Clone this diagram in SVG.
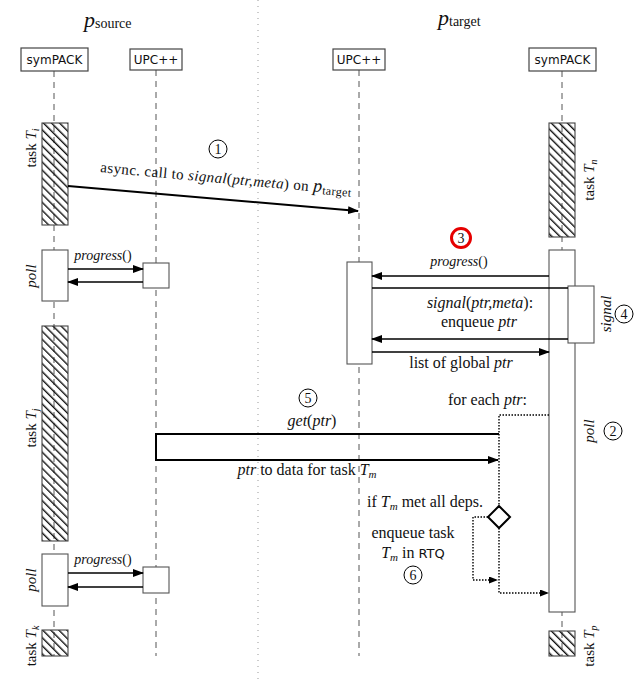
<svg xmlns="http://www.w3.org/2000/svg" width="641" height="682" viewBox="0 0 641 682">
<defs>
<pattern id="hatch" width="5.7" height="5.7" patternUnits="userSpaceOnUse" patternTransform="rotate(-45)">
<rect x="0" y="0" width="1.4" height="5.7" fill="#111"/>
</pattern>
<marker id="ah" markerWidth="11" markerHeight="8" refX="10" refY="4" orient="auto" markerUnits="userSpaceOnUse">
<path d="M0,0 L11,4 L0,8 z" fill="#000"/>
</marker>
<marker id="ahs" markerWidth="9" markerHeight="7" refX="8" refY="3.5" orient="auto" markerUnits="userSpaceOnUse">
<path d="M0,0 L9,3.5 L0,7 z" fill="#000"/>
</marker>
</defs>
<style>
text{font-family:"Liberation Serif","Times New Roman",serif;font-size:15px;fill:#111}
.l16{font-size:16px}
.p14{font-size:14px}
.sans{font-family:"DejaVu Sans","Liberation Sans",sans-serif;font-size:12px}
.it{font-style:italic}
.head{stroke:#444;stroke-width:1.2;fill:#fff}
.life{stroke:#555;stroke-width:1;stroke-dasharray:6 5;fill:none}
.act{stroke:#555;stroke-width:1.1;fill:#fff}
.task{stroke:#444;stroke-width:1.1;fill:url(#hatch)}
.msg{stroke:#000;stroke-width:1.5;fill:none}
.dot{stroke:#000;stroke-width:1.4;stroke-dasharray:1.5 1.5;fill:none}
.num{stroke:#000;stroke-width:1;fill:#fff}
.mid{stroke:#999;stroke-width:1;stroke-dasharray:1 5;fill:none}
</style>

<line class="mid" x1="258" y1="0" x2="258" y2="682"/>

<text x="84" y="27" class="it" style="font-size:22px">p<tspan style="font-style:normal;font-size:14px" dy="1">source</tspan></text>
<text x="438" y="25" class="it" style="font-size:22px">p<tspan style="font-style:normal;font-size:14px" dy="1">target</tspan></text>

<g id="lifelines">
<line class="life" x1="54" y1="71" x2="54" y2="656"/>
<line class="life" x1="156" y1="70" x2="156" y2="656"/>
<line class="life" x1="359" y1="70" x2="359" y2="656"/>
<line class="life" x1="562" y1="71" x2="562" y2="656"/>
</g>

<g id="symPACK-src"><rect class="head" x="21" y="48" width="67" height="23"/><text class="sans" x="54.5" y="64" text-anchor="middle">symPACK</text></g>
<g id="UPC-src"><rect class="head" x="130" y="49" width="52" height="21"/><text class="sans" x="156" y="64" text-anchor="middle">UPC++</text></g>
<g id="UPC-tgt"><rect class="head" x="333" y="49" width="52" height="21"/><text class="sans" x="359" y="64" text-anchor="middle">UPC++</text></g>
<g id="symPACK-tgt"><rect class="head" x="529" y="48" width="67" height="23"/><text class="sans" x="562.5" y="64" text-anchor="middle">symPACK</text></g>

<g id="task-Ti"><rect class="task" x="42" y="123" width="26" height="102"/><text transform="translate(36,148) rotate(-90)" text-anchor="middle">task <tspan class="it">T<tspan style="font-size:10px" dy="3">i</tspan></tspan></text></g>
<g id="task-Tn"><rect class="task" x="549" y="123" width="26" height="114"/><text transform="translate(594,180) rotate(-90)" text-anchor="middle">task <tspan class="it">T<tspan style="font-size:10px" dy="3">n</tspan></tspan></text></g>
<g id="task-Tj"><rect class="task" x="42" y="326" width="26" height="215"/><text transform="translate(36,428) rotate(-90)" text-anchor="middle">task <tspan class="it">T<tspan style="font-size:10px" dy="3">j</tspan></tspan></text></g>
<g id="task-Tk"><rect class="task" x="42" y="630" width="26" height="26"/><text transform="translate(36,646) rotate(-90)" text-anchor="middle">task <tspan class="it">T<tspan style="font-size:10px" dy="3">k</tspan></tspan></text></g>
<g id="task-Tp"><rect class="task" x="549" y="631" width="26" height="25"/><text transform="translate(594,646) rotate(-90)" text-anchor="middle">task <tspan class="it">T<tspan style="font-size:10px" dy="3">p</tspan></tspan></text></g>

<g id="poll-src-1"><rect class="act" x="42" y="250" width="26" height="51"/><text class="it" transform="translate(36,276) rotate(-90)" text-anchor="middle">poll</text></g>
<g id="upc-src-1"><rect class="act" x="143" y="263" width="26" height="25"/></g>
<g id="poll-src-2"><rect class="act" x="42" y="554" width="26" height="52"/><text class="it" transform="translate(36,580) rotate(-90)" text-anchor="middle">poll</text></g>
<g id="upc-src-2"><rect class="act" x="143" y="567" width="26" height="26"/></g>

<g id="upc-tgt-act"><rect class="act" x="347" y="262" width="25" height="102"/></g>
<g id="poll-tgt"><rect class="act" x="549" y="250" width="26" height="362"/><text class="it" transform="translate(594,431) rotate(-90)" text-anchor="middle">poll</text></g>
<g id="signal-act"><rect class="act" x="568" y="286" width="26" height="57"/><text class="it" transform="translate(611,314) rotate(-90)" text-anchor="middle">signal</text></g>

<g id="decision"><path d="M499,506 L510,517 L499,528 L488,517 z" fill="#fff" stroke="#000" stroke-width="2"/></g>

<g id="connectors">
<line x1="68" y1="186" x2="358" y2="211" stroke="#000" stroke-width="2" marker-end="url(#ah)"/>
<line class="msg" x1="68" y1="269" x2="143" y2="269" marker-end="url(#ah)"/>
<line class="msg" x1="143" y1="282" x2="68" y2="282" marker-end="url(#ah)"/>
<line class="msg" x1="68" y1="573" x2="143" y2="573" marker-end="url(#ah)"/>
<line class="msg" x1="143" y1="587" x2="68" y2="587" marker-end="url(#ah)"/>
<line class="msg" x1="549" y1="276" x2="372" y2="276" marker-end="url(#ah)"/>
<line class="msg" x1="372" y1="288" x2="568" y2="288"/>
<line class="msg" x1="568" y1="339" x2="372" y2="339" marker-end="url(#ah)"/>
<line class="msg" x1="372" y1="352" x2="549" y2="352" marker-end="url(#ah)"/>
<path d="M499,434 H156 V460 H498" fill="none" stroke="#000" stroke-width="2" marker-end="url(#ah)"/>
<path class="dot" d="M549,415 H499 V506"/>
<path class="dot" d="M488,517 H473 V580 H497" marker-end="url(#ahs)"/>
<path class="dot" d="M499,528 V593 H548" marker-end="url(#ahs)"/>
</g>

<g id="labels">
<text transform="rotate(5.2 100 172)" x="100" y="172" textLength="252" lengthAdjust="spacing">async. call to <tspan class="it">signal</tspan>(<tspan class="it">ptr,meta</tspan>) on <tspan class="it" style="font-size:18px">p</tspan><tspan style="font-size:12px" dy="2">target</tspan></text>
<text class="p14" x="103" y="260" text-anchor="middle"><tspan class="it">progress</tspan>()</text>
<text class="p14" x="103" y="564" text-anchor="middle"><tspan class="it">progress</tspan>()</text>
<text class="p14" x="459" y="266" text-anchor="middle"><tspan class="it">progress</tspan>()</text>
<text class="l16" x="480" y="308" text-anchor="middle"><tspan class="it">signal</tspan>(<tspan class="it">ptr,meta</tspan>):</text>
<text class="l16" x="479" y="327" text-anchor="middle">enqueue <tspan class="it">ptr</tspan></text>
<text class="l16" x="461" y="368" text-anchor="middle">list of global <tspan class="it">ptr</tspan></text>
<text class="l16" x="527" y="405" text-anchor="end">for each <tspan class="it">ptr</tspan>:</text>
<text class="l16" x="312" y="426" text-anchor="middle"><tspan class="it">get</tspan>(<tspan class="it">ptr</tspan>)</text>
<text class="l16" x="307" y="475" text-anchor="middle"><tspan class="it">ptr</tspan> to data for task <tspan class="it">T<tspan style="font-size:11px" dy="3">m</tspan></tspan></text>
<text class="l16" x="367" y="507"><tspan>if </tspan><tspan class="it">T<tspan style="font-size:11px" dy="3">m</tspan></tspan><tspan dy="-3"> met all deps.</tspan></text>
<text class="l16" x="413" y="538" text-anchor="middle">enqueue task</text>
<text class="l16" x="413" y="558" text-anchor="middle"><tspan class="it">T<tspan style="font-size:11px" dy="3">m</tspan></tspan><tspan dy="-3"> in </tspan><tspan class="sans" style="font-size:13px">RTQ</tspan></text>
</g>

<g id="step-numbers">
<circle class="num" cx="218" cy="149" r="9"/><text x="218" y="154" text-anchor="middle" style="font-size:14px">1</text>
<circle class="num" cx="613" cy="431" r="9"/><text x="613" y="436" text-anchor="middle" style="font-size:14px">2</text>
<circle cx="461" cy="238" r="9.5" fill="#fff" stroke="#e60000" stroke-width="3"/><text x="461" y="243" text-anchor="middle" style="font-size:14px">3</text>
<circle class="num" cx="624" cy="314" r="9"/><text x="624" y="319" text-anchor="middle" style="font-size:14px">4</text>
<circle class="num" cx="308" cy="398" r="9"/><text x="308" y="403" text-anchor="middle" style="font-size:14px">5</text>
<circle class="num" cx="413" cy="575" r="9"/><text x="413" y="580" text-anchor="middle" style="font-size:14px">6</text>
</g>
</svg>
